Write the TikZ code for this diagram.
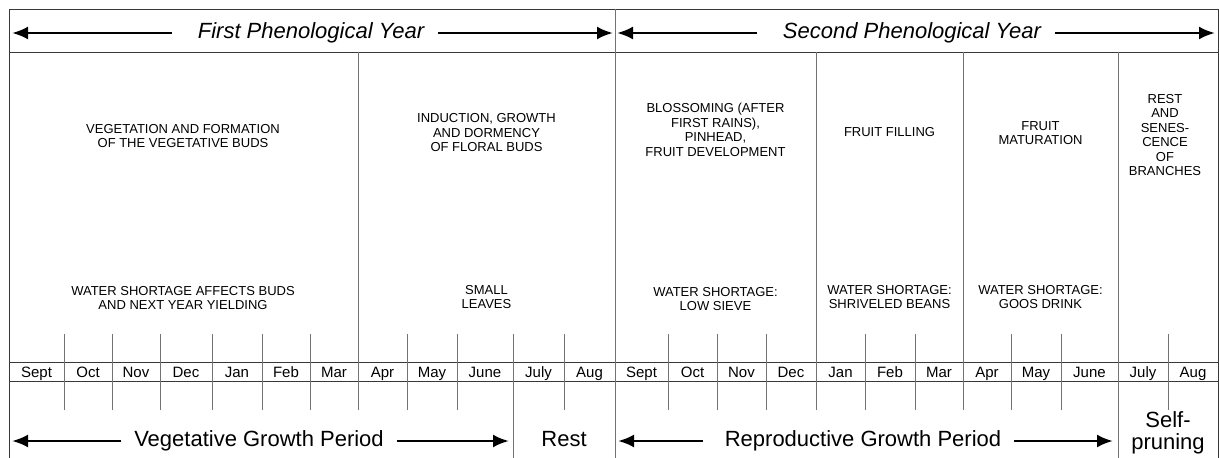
\documentclass[tikz,border=0pt]{standalone}
\usepackage{fontspec}
\setmainfont{Liberation Sans}
\usetikzlibrary{arrows.meta}

\begin{document}
\begin{tikzpicture}[
  x=1pt, y=-1pt,
  frame/.style={draw=black!78, line width=0.9pt},
  divider/.style={draw=black!55, line width=0.9pt},
  phase/.style={align=center, inner sep=0pt, font=\fontsize{13}{14.5}\selectfont},
  month/.style={anchor=base, inner sep=0pt, font=\fontsize{15}{16}\selectfont},
  yearlbl/.style={inner xsep=14pt, inner ysep=0pt, text height=15.5pt, text depth=4.5pt, font=\fontsize{22}{24}\selectfont\itshape},
  period/.style={inner xsep=13pt, inner ysep=0pt, text height=15.5pt, text depth=4.5pt, font=\fontsize{22}{22}\selectfont},
  arrow/.style={-{Latex[length=16pt, width=13pt]}, line width=2.6pt}
]
\useasboundingbox (0,0) rectangle (1219,458);

\draw[frame] (9,458) -- (9,9) -- (1218,9) -- (1218,458);
\draw[frame] (9,52) -- (1218,52);
\draw[frame] (9,362) -- (1218,362);
\draw[frame] (9,381) -- (1218,381);

\draw[divider] (615,9) -- (615,458);
\draw[divider] (513,334) -- (513,458);
\draw[divider] (1118,52) -- (1118,458);
\foreach \x in {358,816,963}
  \draw[divider] (\x,52) -- (\x,410);
\foreach \x in {64,112,160,212,262,310,407,457,564,668,717,766,865,915,1011,1061,1168}
  \draw[divider] (\x,334) -- (\x,410);

\foreach \m/\x [count=\i] in {Sept/36.5, Oct/88, Nov/136, Dec/186, Jan/237, Feb/286, Mar/334, Apr/382.5, May/432, June/485, July/538.5, Aug/589.5,
    Sept/641.5, Oct/692.5, Nov/741.5, Dec/791, Jan/840.5, Feb/890, Mar/939, Apr/987, May/1036, June/1089.5, July/1143, Aug/1193}
  \node[month] (m\i) at (\x,377) {\m};

\node[yearlbl] (yr1) at (311,33) {First Phenological Year};
\node[yearlbl] (yr2) at (912,33) {Second Phenological Year};
\coordinate (yr1l) at (12,33);
\coordinate (yr1r) at (613,33);
\coordinate (yr2l) at (617,33);
\coordinate (yr2r) at (1215,33);
\draw[arrow] ([xshift=-12pt]yr1.west) -- (yr1l);
\draw[arrow] (yr1) -- (yr1r);
\draw[arrow] ([xshift=-12pt]yr2.west) -- (yr2l);
\draw[arrow] (yr2) -- (yr2r);

\node[phase] (veg) at (183,136) {VEGETATION AND FORMATION\\OF THE VEGETATIVE BUDS};
\node[phase] (ind) at (486.5,133) {INDUCTION, GROWTH\\AND DORMENCY\\OF FLORAL BUDS};
\node[phase] (blos) at (715.5,130) {BLOSSOMING (AFTER\\FIRST RAINS),\\PINHEAD,\\FRUIT DEVELOPMENT};
\node[phase] (fill) at (889.5,132) {FRUIT FILLING};
\node[phase] (mat) at (1040.5,133) {FRUIT\\MATURATION};
\node[phase] (sen) at (1165,135) {REST\\AND\\SENES-\\CENCE\\OF\\BRANCHES};

\node[phase] (wveg) at (183,298) {WATER SHORTAGE AFFECTS BUDS\\AND NEXT YEAR YIELDING};
\node[phase] (wind) at (486.5,297) {SMALL\\LEAVES};
\node[phase] (wblos) at (715.5,299) {WATER SHORTAGE:\\LOW SIEVE};
\node[phase] (wfill) at (889.5,297) {WATER SHORTAGE:\\SHRIVELED BEANS};
\node[phase] (wmat) at (1040.5,297) {WATER SHORTAGE:\\GOOS DRINK};

\node[period] (vgp) at (259,441) {Vegetative Growth Period};
\node[period] (rest) at (564,441) {Rest};
\node[period] (rgp) at (863,441) {Reproductive Growth Period};
\node[align=center, inner sep=0pt, font=\fontsize{22}{22}\selectfont] (self) at (1168,433) {Self-\\pruning};
\coordinate (vgpl) at (12,441);
\coordinate (vgpr) at (509,441);
\coordinate (rgpl) at (618,441);
\coordinate (rgpr) at (1113,441);
\draw[arrow] (vgp) -- (vgpl);
\draw[arrow] (vgp) -- (vgpr);
\draw[arrow] ([xshift=-9pt]rgp.west) -- (rgpl);
\draw[arrow] (rgp) -- (rgpr);
\end{tikzpicture}
\end{document}
